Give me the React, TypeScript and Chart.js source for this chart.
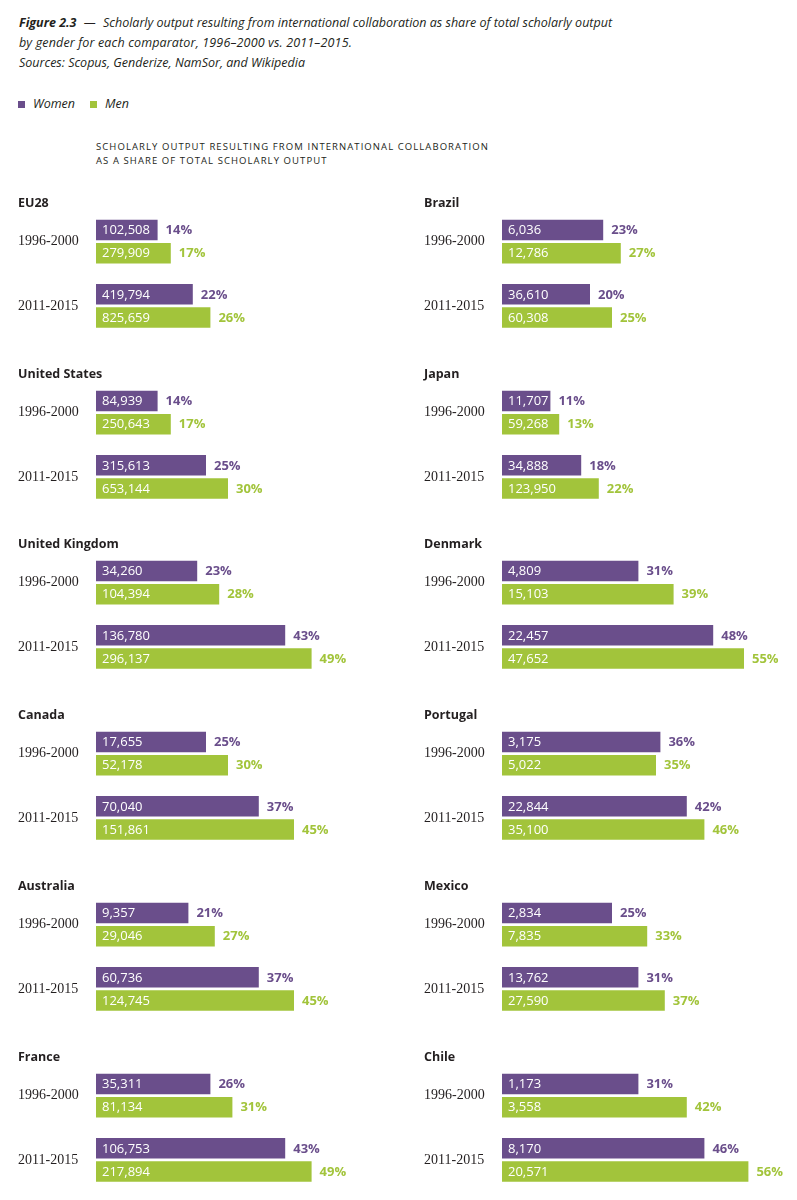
import React, { useEffect, useRef } from "react";
import { Chart, registerables } from "chart.js";

Chart.register(...registerables);

const periods = ["1996-2000", "2011-2015"];
const countries = [
  "EU28", "Brazil",
  "United States", "Japan",
  "United Kingdom", "Denmark",
  "Canada", "Portugal",
  "Australia", "Mexico",
  "France", "Chile",
];
const womenPct = [
  [14, 22], [23, 20],
  [14, 25], [11, 18],
  [23, 43], [31, 48],
  [25, 37], [36, 42],
  [21, 37], [25, 31],
  [26, 43], [31, 46],
];
const menPct = [
  [17, 26], [27, 25],
  [17, 30], [13, 22],
  [28, 49], [39, 55],
  [30, 45], [35, 46],
  [27, 45], [33, 37],
  [31, 49], [42, 56],
];
const womenCount = [
  [102508, 419794], [6036, 36610],
  [84939, 315613], [11707, 34888],
  [34260, 136780], [4809, 22457],
  [17655, 70040], [3175, 22844],
  [9357, 60736], [2834, 13762],
  [35311, 106753], [1173, 8170],
];
const menCount = [
  [279909, 825659], [12786, 60308],
  [250643, 653144], [59268, 123950],
  [104394, 296137], [15103, 47652],
  [52178, 151861], [5022, 35100],
  [29046, 124745], [7835, 27590],
  [81134, 217894], [3558, 20571],
];

const PURPLE = "#6a4e8b";
const GREEN = "#a2c43b";
const TEXT = "#231f20";
const SANS = '"Open Sans", "Noto Sans", sans-serif';

const labelPlugin = {
  id: "barLabels",
  afterDatasetsDraw(chart: any) {
    const ctx = chart.ctx;
    chart.data.datasets.forEach((ds: any, di: number) => {
      const meta = chart.getDatasetMeta(di);
      meta.data.forEach((bar: any, j: number) => {
        const { x, y, base } = bar.getProps(["x", "y", "base"], true);
        ctx.save();
        ctx.textBaseline = "middle";
        ctx.textAlign = "left";
        ctx.font = `13px ${SANS}`;
        ctx.fillStyle = "#ffffff";
        ctx.fillText(Number(ds.counts[j]).toLocaleString("en-US"), base + 6, y + 0.5);
        ctx.font = `bold 13px ${SANS}`;
        ctx.fillStyle = ds.backgroundColor;
        ctx.fillText(`${ds.data[j]}%`, x + 8, y + 0.5);
        ctx.restore();
      });
    });
  },
};

function Panel({ index }: { index: number }) {
  const ref = useRef<HTMLCanvasElement | null>(null);
  useEffect(() => {
    if (!ref.current) return;
    const chart = new Chart(ref.current, {
      type: "bar",
      data: {
        labels: periods,
        datasets: [
          { label: "Women", data: womenPct[index], backgroundColor: PURPLE, counts: womenCount[index] } as any,
          { label: "Men", data: menPct[index], backgroundColor: GREEN, counts: menCount[index] } as any,
        ],
      },
      options: {
        indexAxis: "y",
        animation: false,
        responsive: true,
        maintainAspectRatio: false,
        layout: { padding: { left: 18, right: 31, top: 0, bottom: 28 } },
        datasets: { bar: { categoryPercentage: 0.717, barPercentage: 0.89 } },
        plugins: {
          legend: { display: false },
          tooltip: { enabled: false },
          title: {
            display: true,
            text: countries[index],
            align: "start",
            color: TEXT,
            font: { family: SANS, size: 12.5, weight: "bold", lineHeight: 1 },
            padding: { top: 1, bottom: 0 },
          },
        },
        scales: {
          x: { display: false, min: 0, max: 60 },
          y: {
            grid: { display: false },
            border: { display: false },
            ticks: {
              crossAlign: "far",
              padding: 0,
              color: TEXT,
              font: { family: '"Liberation Serif", serif', size: 14 },
            },
            afterFit: (s: any) => {
              s.width = 78;
            },
          },
        },
      } as any,
      plugins: [labelPlugin],
    });
    return () => chart.destroy();
  }, [index]);
  const col = index % 2;
  const row = Math.floor(index / 2);
  return (
    <div
      style={{
        position: "absolute",
        left: col === 0 ? 0 : 406,
        top: 195.7 + row * 170.8,
        width: 391,
        height: 170,
      }}
    >
      <canvas ref={ref} />
    </div>
  );
}

export default function App() {
  const hdr: React.CSSProperties = {
    position: "absolute",
    left: 19,
    fontFamily: SANS,
    fontStyle: "italic",
    fontSize: 12.5,
    color: TEXT,
    lineHeight: "20px",
    whiteSpace: "nowrap",
  };
  return (
    <div style={{ position: "relative", width: 797, height: 1200, overflow: "hidden", background: "#fff" }}>
      <style>{"html,body{margin:0;overflow:hidden;background:#fff}"}</style>
      <div style={{ ...hdr, top: 13 }}>
        <b>Figure 2.3</b>
        <span style={{ padding: "0 4px" }}> — </span>Scholarly output resulting from international collaboration as share of total scholarly output
      </div>
      <div style={{ ...hdr, top: 33, letterSpacing: 0.15 }}>by gender for each comparator, 1996–2000 vs. 2011–2015.</div>
      <div style={{ ...hdr, top: 53 }}>Sources: Scopus, Genderize, NamSor, and Wikipedia</div>
      <div style={{ ...hdr, top: 94, left: 18, display: "flex", alignItems: "center" }}>
        <span style={{ display: "inline-block", width: 7, height: 7, background: PURPLE, marginRight: 8 }} />
        <span>Women</span>
        <span style={{ display: "inline-block", width: 7, height: 7, background: GREEN, marginLeft: 15, marginRight: 8 }} />
        <span>Men</span>
      </div>
      <div
        style={{
          position: "absolute",
          left: 96,
          top: 140,
          fontFamily: SANS,
          fontSize: 9.5,
          letterSpacing: 1.08,
          lineHeight: "14px",
          color: TEXT,
          whiteSpace: "nowrap",
        }}
      >
        SCHOLARLY OUTPUT RESULTING FROM INTERNATIONAL COLLABORATION
        <br />
        AS A SHARE OF TOTAL SCHOLARLY OUTPUT
      </div>
      {countries.map((_, i) => (
        <Panel key={i} index={i} />
      ))}
    </div>
  );
}
